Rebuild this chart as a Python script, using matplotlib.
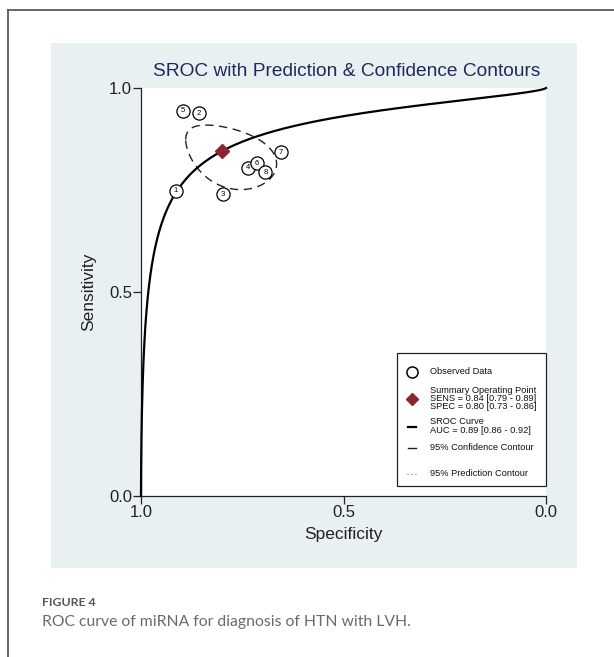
import numpy as np
import matplotlib
matplotlib.use("Agg")
import matplotlib.pyplot as plt
from matplotlib.lines import Line2D
from matplotlib.patches import Rectangle

# ---------------- data ----------------
study_ids = ["1", "2", "3", "4", "5", "6", "7", "8"]
study_spec = [0.914, 0.857, 0.797, 0.735, 0.896, 0.713, 0.655, 0.693]
study_sens = [0.748, 0.938, 0.740, 0.805, 0.944, 0.815, 0.842, 0.793]

summary_spec = 0.80
summary_sens = 0.846

# SROC curve: logit(sens) = alpha + beta * logit(1 - spec)
sroc_alpha = 2.60
sroc_beta = 0.65

# 95% confidence contour (logit space)
conf_half_logit_spec = 0.70
conf_half_logit_sens = 0.60
conf_rho = 0.38

title_text = "SROC with Prediction & Confidence Contours"
x_ticks = [1.0, 0.5, 0.0]
y_ticks = [0.0, 0.5, 1.0]
x_tick_labels = ["1.0", "0.5", "0.0"]
y_tick_labels = ["0.0", "0.5", "1.0"]
legend_obs = "Observed Data"
legend_sum = "Summary Operating Point\nSENS = 0.84 [0.79 - 0.89]\nSPEC = 0.80 [0.73 - 0.86]"
legend_sroc = "SROC Curve\nAUC = 0.89 [0.86 - 0.92]"
legend_conf = "95% Confidence Contour"
legend_pred = "95% Prediction Contour"
caption_head = "FIGURE 4"
caption_text = "ROC curve of miRNA for diagnosis of HTN with LVH."

# ---------------- figure ----------------
W, H = 614, 657
fig = plt.figure(figsize=(W / 100, H / 100), dpi=100)
fig.patch.set_facecolor("white")


def fx(px):
    return px / W


def fy(py):
    return 1 - py / H


# outer frame lines
fig.add_artist(Line2D([fx(7.5), fx(7.5)], [fy(9.5), 0], color="#5a5a5a", lw=1.3))
fig.add_artist(Line2D([fx(7.5), 1], [fy(9.5), fy(9.5)], color="#5a5a5a", lw=1.3))

# light panel
fig.add_artist(Rectangle((fx(51), fy(568)), fx(577) - fx(51), fy(43) - fy(568),
                         facecolor="#e8f0f2", edgecolor="none", zorder=0))

FONT = ["Liberation Sans", "DejaVu Sans"]
plt.rcParams["font.family"] = FONT

ax = fig.add_axes([fx(141), fy(496), fx(546) - fx(141), fy(88) - fy(496)])
ax.set_facecolor("white")
ax.set_xlim(1.0, 0.0)
ax.set_ylim(0.0, 1.0)
for s in ["top", "right"]:
    ax.spines[s].set_visible(False)
for s in ["left", "bottom"]:
    ax.spines[s].set_linewidth(0.9)
    ax.spines[s].set_color("#222222")
ax.set_xticks(x_ticks)
ax.set_xticklabels(x_tick_labels)
ax.set_yticks(y_ticks)
ax.set_yticklabels(y_tick_labels)
ax.tick_params(direction="out", length=5.5, width=0.9, color="#222222",
               labelsize=12, labelcolor="#222222", pad=1)
ax.set_xlabel("Specificity", fontsize=12.5, color="#222222", labelpad=5)
ax.set_ylabel("Sensitivity", fontsize=12.5, color="#222222", labelpad=9)

# SROC curve
fpr = np.concatenate([[1e-9], np.logspace(-6, -1, 300), np.linspace(0.1, 1 - 1e-9, 300)])
lg = np.log(fpr / (1 - fpr))
sens_curve = 1 / (1 + np.exp(-(sroc_alpha + sroc_beta * lg)))
ax.plot(1 - fpr, sens_curve, color="black", lw=1.6, zorder=3, clip_on=False)

# confidence contour
t = np.linspace(0, 2 * np.pi, 400)
c_spec = np.log(summary_spec / (1 - summary_spec))
c_sens = np.log(summary_sens / (1 - summary_sens))
ls = c_spec + conf_half_logit_spec * np.cos(t)
lse = c_sens + conf_half_logit_sens * (conf_rho * np.cos(t) + np.sqrt(1 - conf_rho ** 2) * np.sin(t))
ax.plot(1 / (1 + np.exp(-ls)), 1 / (1 + np.exp(-lse)), color="#222222", lw=1.0,
        dashes=(6, 4), zorder=2)

# studies
ax.plot(study_spec, study_sens, linestyle="none", marker="o", markersize=9.5,
        mfc="white", mec="black", mew=0.9, zorder=4)
for sid, xs, ys in zip(study_ids, study_spec, study_sens):
    ax.text(xs, ys, sid, fontsize=5.5, ha="center", va="center", zorder=5)

# summary point
ax.plot([summary_spec], [summary_sens], linestyle="none", marker="D", markersize=7.5,
        color="#8b2530", zorder=6)

# title
fig.text(fx(347), fy(72), title_text, fontsize=13.8, color="#1f2b5b",
         ha="center", va="center")

# legend box (manual)
fig.add_artist(Rectangle((fx(397), fy(486)), fx(546) - fx(397), fy(353) - fy(486),
                         facecolor="white", edgecolor="#222222", lw=0.9, zorder=10))
LX = 430
HX = 412
lfs = 6.7


def ltext(py, s):
    fig.text(fx(LX), fy(py), s, fontsize=lfs, color="#111111", ha="left",
             va="center", zorder=11, linespacing=0.9)


ltext(371.5, legend_obs)
fig.add_artist(Line2D([fx(HX)], [fy(371.5)], marker="o", markersize=8, mfc="white",
                      mec="black", mew=1.1, zorder=11))
ltext(398.5, legend_sum)
fig.add_artist(Line2D([fx(HX)], [fy(398.5)], marker="D", markersize=6.5,
                      color="#8b2530", zorder=11))
ltext(426, legend_sroc)
fig.add_artist(Line2D([fx(HX - 4), fx(HX + 4)], [fy(426.5), fy(426.5)], color="black",
                      lw=1.6, zorder=11))
ltext(448, legend_conf)
fig.add_artist(Line2D([fx(HX - 4), fx(HX + 4)], [fy(448), fy(448)], color="#222222",
                      lw=1.0, zorder=11))
ltext(474, legend_pred)
fig.add_artist(Line2D([fx(HX - 5), fx(HX + 5)], [fy(474), fy(474)], color="#777777",
                      lw=0.8, linestyle=(0, (1, 2.5)), zorder=11))

# caption
fig.text(fx(42), fy(603), caption_head, fontsize=8.8, color="#555555",
         family=["Lato", "DejaVu Sans"], fontweight="bold", ha="left", va="center")
fig.text(fx(42), fy(622), caption_text, fontsize=11.3, color="#6a6a6a",
         family=["Lato", "DejaVu Sans"], ha="left", va="center")

fig.savefig("out.png", dpi=100)
